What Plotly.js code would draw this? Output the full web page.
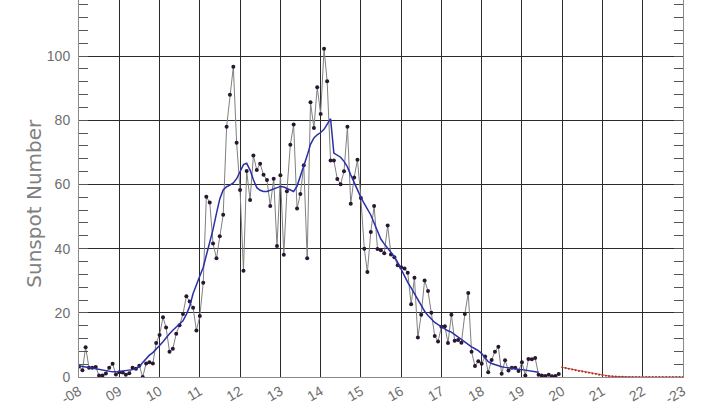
<!DOCTYPE html>
<html>
<head>
<meta charset="utf-8">
<script src="https://cdn.plot.ly/plotly-3.0.1.min.js"></script>
<style>html,body{margin:0;padding:0;background:#fff;}#chart{width:706px;height:403px;}</style>
</head>
<body>
<div id="chart"></div>
<script>
// Monthly sunspot numbers, Jan 2008 .. Dec 2019
const startYear = 2008;
const monthly = [
  3.3, 2.1, 9.3, 2.9, 2.9, 3.1, 0.5, 0.5, 1.1, 2.9, 4.1, 0.8,
  1.5, 1.4, 0.7, 1.2, 2.9, 2.6, 3.5, 0.0, 4.2, 4.6, 4.2, 10.6,
  13.1, 18.6, 15.4, 7.9, 8.8, 13.5, 16.1, 19.6, 25.2, 23.5, 21.6, 14.5,
  19.0, 29.4, 56.2, 54.4, 41.6, 37.0, 43.9, 50.6, 78.0, 88.0, 96.7, 73.0,
  58.3, 33.1, 64.2, 55.2, 69.0, 64.5, 66.5, 63.0, 61.4, 53.3, 61.8, 40.8,
  62.9, 38.1, 57.9, 72.4, 78.7, 52.5, 57.0, 66.0, 37.0, 85.6, 77.6, 90.3,
  82.0, 102.3, 92.2, 67.5, 67.5, 61.7, 60.1, 64.1, 78.0, 54.0, 62.2, 67.7,
  55.8, 40.0, 32.7, 45.2, 53.3, 39.9, 39.5, 38.6, 47.2, 38.2, 37.3, 34.8,
  34.2, 33.8, 32.5, 22.7, 30.9, 12.3, 19.4, 30.1, 26.8, 20.0, 12.8, 11.1,
  15.7, 15.8, 10.6, 19.4, 11.3, 11.5, 10.7, 19.6, 26.2, 7.9, 3.4, 4.9,
  4.1, 6.4, 1.5, 5.3, 7.9, 9.4, 1.0, 5.2, 2.0, 2.9, 2.9, 1.9,
  4.6, 0.5, 5.6, 5.5, 5.9, 0.7, 0.5, 0.3, 0.7, 0.2, 0.3, 0.9
];
// Smoothed sunspot number, Jan 2008 .. Jun 2019
const smoothed = [
  3.4, 3.3, 3.2, 3.0, 2.8, 2.6, 2.4, 2.1, 1.9, 1.7, 1.6, 1.6,
  1.7, 1.8, 1.9, 2.1, 2.3, 2.6, 3.2, 4.5, 5.8, 6.8, 7.6, 8.6,
  9.8, 11.0, 12.3, 13.5, 14.6, 15.5, 16.3, 17.5, 19.5, 22.0, 26.0, 29.0,
  31.5, 34.2, 37.8, 41.8, 46.0, 51.0, 55.5, 58.3, 59.3, 59.8, 60.5, 61.8,
  63.8, 66.2, 66.6, 64.5, 61.5, 59.0, 58.2, 57.8, 57.8, 58.2, 58.8, 59.2,
  59.4, 59.2, 58.8, 58.2, 57.8, 59.5, 62.5, 65.5, 69.0, 72.5, 74.5, 75.5,
  76.2, 77.2, 78.7, 80.5, 69.8, 69.2, 68.5, 67.2, 65.5, 63.0, 60.5, 58.5,
  56.0, 54.0, 52.5, 50.5, 48.0, 45.5, 43.0, 41.5, 40.2, 39.0, 37.5, 35.7,
  33.5, 31.5, 29.5, 27.8, 26.0, 24.0, 22.0, 20.5, 19.2, 18.0, 17.0, 16.3,
  15.6, 15.0, 14.4, 14.0, 13.2, 12.4, 11.6, 10.8, 10.0, 9.4, 8.8, 8.2,
  7.3, 6.0, 4.8, 4.2, 3.8, 3.5, 3.2, 3.0, 2.8, 2.7, 2.6, 2.4,
  2.3, 2.1, 1.9, 1.8, 1.6, 1.5
];
// Predicted smoothed values, Jan 2020 .. Jan 2023
const predStartYear = 2020;
const predicted = [
  3.0, 2.8, 2.6, 2.35, 2.1, 1.9, 1.7, 1.5, 1.3, 1.1, 0.9, 0.7,
  0.55, 0.4, 0.3, 0.2, 0.15, 0.1, 0.05, 0, 0, 0, 0, 0,
  0, 0, 0, 0, 0, 0, 0, 0, 0, 0, 0, 0, 0
];
const tickYears = [2008,2009,2010,2011,2012,2013,2014,2015,2016,2017,2018,2019,2020,2021,2022,2023];
const tickLabels = ['-08','09','10','11','12','13','14','15','16','17','18','19','20','21','22','-23'];
const yTitle = 'Sunspot Number';

function monthDate(y0, i) {
  const y = y0 + Math.floor(i / 12);
  const m = (i % 12) + 1;
  return y + '-' + (m < 10 ? '0' + m : m) + '-01';
}
const xMonthly = monthly.map((_, i) => monthDate(startYear, i));
const xSmoothed = smoothed.map((_, i) => monthDate(startYear, i));
const xPred = predicted.map((_, i) => monthDate(predStartYear, i));

const traces = [
  {
    x: xMonthly, y: monthly, type: 'scatter', mode: 'lines+markers',
    line: {color: '#808080', width: 1},
    marker: {color: '#2a1630', size: 4, symbol: 'circle'},
    hoverinfo: 'skip', showlegend: false
  },
  {
    x: xSmoothed, y: smoothed, type: 'scatter', mode: 'lines',
    line: {color: '#2b2fa6', width: 1.5},
    hoverinfo: 'skip', showlegend: false
  },
  {
    x: xPred, y: predicted, type: 'scatter', mode: 'lines+markers',
    line: {color: '#d85a50', width: 1},
    marker: {color: '#a83028', size: 2},
    hoverinfo: 'skip', showlegend: false
  }
];

const tickFont = {family: 'Liberation Sans, Arial, sans-serif', size: 14, color: '#6e6e6e'};
const layout = {
  width: 706, height: 403,
  margin: {l: 79, r: 23, t: 0, b: 26, pad: 0},
  paper_bgcolor: '#ffffff', plot_bgcolor: '#ffffff',
  showlegend: false,
  xaxis: {
    type: 'date',
    range: ['2008-01-01', '2023-01-01'],
    tickmode: 'array',
    tickvals: tickYears.map(y => y + '-01-01'),
    ticktext: tickLabels,
    tickangle: -30,
    tickfont: tickFont,
    showgrid: true, gridcolor: '#2a2a2a', gridwidth: 1,
    showline: true, linecolor: '#8a8a8a', linewidth: 1, mirror: true,
    ticks: '', zeroline: false
  },
  yaxis: {
    range: [0, 117.5],
    tickmode: 'linear', tick0: 0, dtick: 20,
    tickfont: tickFont,
    ticks: 'inside', ticklen: 9, tickcolor: '#555', tickwidth: 1,
    ticklabelstandoff: 5,
    minor: {dtick: 4, ticks: 'inside', ticklen: 9, tickcolor: '#555', tickwidth: 1, showgrid: false},
    showgrid: true, gridcolor: '#2a2a2a', gridwidth: 1,
    showline: true, linecolor: '#8a8a8a', linewidth: 1, mirror: 'ticks',
    zeroline: false
  },
  annotations: [{
    text: yTitle, textangle: -90, showarrow: false,
    xref: 'paper', yref: 'paper', x: -0.076, y: 0.46,
    xanchor: 'center', yanchor: 'middle',
    font: {family: 'DejaVu Sans, sans-serif', size: 20, color: '#808080'}
  }]
};
Plotly.newPlot('chart', traces, layout, {staticPlot: true, displayModeBar: false});
</script>
</body>
</html>
